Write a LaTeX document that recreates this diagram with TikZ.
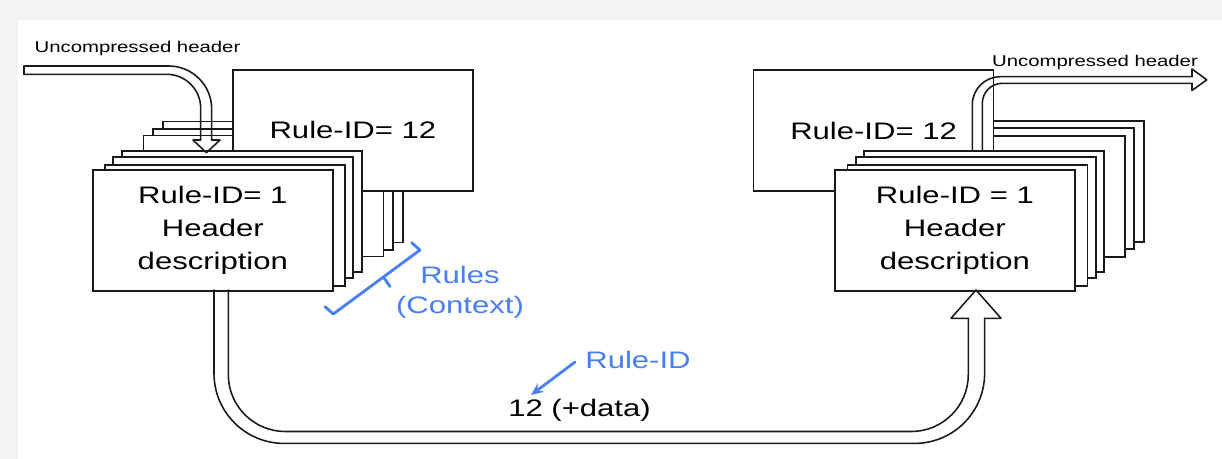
\documentclass[tikz,border=0pt]{standalone}
\usepackage{fontspec}
\setmainfont{Liberation Sans}
\usepackage{graphicx}
\usetikzlibrary{arrows.meta,calc}

\definecolor{ink}{HTML}{1A1A1A}
\definecolor{note}{HTML}{4A7EF5}
\definecolor{frame}{HTML}{F3F3F3}

% text is set slightly wide, as in the original slide
\newcommand{\stretchtext}[1]{\scalebox{1.3}[1]{#1}}

\begin{document}
\begin{tikzpicture}[x=0.02cm,y=-0.02cm,
  card/.style={draw=ink, fill=white, line width=1pt, anchor=north west,
    minimum width=4.8cm, minimum height=2.42cm, inner sep=0pt},
  bigtext/.style={font=\fontsize{13.6}{18.8}\selectfont, align=center, text=black},
  smalltext/.style={font=\fontsize{8.9}{10}\selectfont, text=black},
  band/.style={draw=ink, line width=0.9pt, line join=round, line cap=round},
  notetext/.style={font=\fontsize{13.6}{17}\selectfont, align=center, text=note},
  notepen/.style={draw=note, line width=1.6pt, line join=round, line cap=round}]

\useasboundingbox (0,0) rectangle (1222,459);
\fill[frame] (0,0) rectangle (1222,459);
\fill[white] (18,20) rectangle (1222,459);

% ---- compressor: stack of rules ----
\node[card] (L7) at (162,120.7) {};
\node[card] (L6) at (152,128) {};
\node[card] (L5) at (142.7,134.7) {};
\node[card, bigtext] (L12) at (232,69) {\stretchtext{Rule-ID= 12}};
\node[card] (L4) at (121,150) {};
\node[card] (L3) at (112,156) {};
\node[card] (L2) at (104,164.3) {};
\node[card, bigtext] (L1) at (92,169)
  {\stretchtext{Rule-ID= 1}\\\stretchtext{Header}\\\stretchtext{description}};

% ---- decompressor: stack of rules ----
\node[card] (R7) at (903.3,120) {};
\node[card] (R6) at (893.3,127.3) {};
\node[card] (R5) at (884.3,135) {};
\node[card, bigtext] (R12) at (752.7,69.3) {\stretchtext{Rule-ID= 12}};
\node[card] (R4) at (863.3,150) {};
\node[card] (R3) at (855,156) {};
\node[card] (R2) at (846.7,164.3) {};
\node[card, bigtext] (R1) at (834,169)
  {\stretchtext{Rule-ID = 1}\\\stretchtext{Header}\\\stretchtext{description}};

% ---- incoming uncompressed header (hollow arrow into L4) ----
\coordinate (inStart) at (24,70.2);
\coordinate (inTip) at (206.4,152.7);
\draw[band] (24,66) -- (24,74.3);
\draw[band, rounded corners=0.86cm] (24,66) -- (211.7,66) -- (211.7,140);
\draw[band] (211.7,140) -- (220,140) -- (inTip) -- (193,140) -- (200.7,140);
\draw[band, rounded corners=0.68cm] (200.7,140) -- (200.7,74.3) -- (24,74.3);
\node[smalltext] (inLabel) at (137.5,48) {\stretchtext{Uncompressed header}};

% ---- outgoing uncompressed header (hollow arrow out of R4) ----
\coordinate (outTip) at (1206.7,79.8);
\draw[band, rounded corners=0.56cm] (972.3,150) -- (972.3,76.7) -- (1192,76.7);
\draw[band] (1192,76.7) -- (1192,69) -- (outTip) -- (1192,90.5) -- (1192,83.3);
\draw[band, rounded corners=0.4cm] (1192,83.3) -- (982.3,83.3) -- (982.3,150);
\node[smalltext] (outLabel) at (1095,62) {\stretchtext{Uncompressed header}};

% ---- compressed packet: L1 to R1 ----
\coordinate (sendTip) at (976,290);
\draw[band, rounded corners=1.4cm] (214,290) -- (214,443.4) -- (984.6,443.4) -- (984.6,318.3);
\draw[band, rounded corners=1.14cm] (228.3,290) -- (228.3,431.5) -- (968.3,431.5) -- (968.3,318.3);
\draw[band] (968.3,318.3) -- (951,318.3) -- (sendTip) -- (1001,318.3) -- (984.6,318.3);
\node[bigtext] (payload) at (579.5,410) {\stretchtext{12 (+data)}};

% ---- annotations ----
\draw[notepen] (325,306.7) -- (333.3,314) -- (420,250) -- (411.7,242.7);
\draw[notepen] (383.5,277.2) -- (390,286.5);
\node[notetext] (rules) at (460,292) {\stretchtext{Rules}\\\stretchtext{(Context)}};

\node[notetext] (ruleid) at (638,360) {\stretchtext{Rule-ID}};
\coordinate (ruleidFrom) at (575,362);
\draw[notepen, -{Stealth[length=7pt,width=6pt]}] (ruleidFrom) -- (531,395);

\end{tikzpicture}
\end{document}
